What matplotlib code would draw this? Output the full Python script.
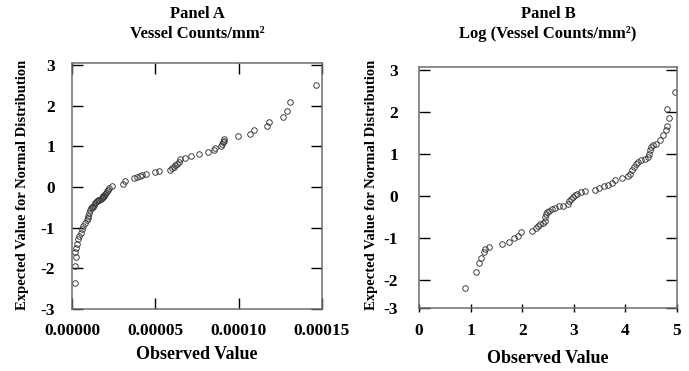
import numpy as np
import matplotlib
matplotlib.use("Agg")
import matplotlib.pyplot as plt

plt.rcParams['font.family'] = ['Liberation Serif', 'DejaVu Serif']
plt.rcParams['font.weight'] = 'bold'

# Panel A: observed vessel counts/mm2 vs expected normal value
obs_a = [1.8e-6, 1.8e-6, 2.4e-6, 1.8e-6, 2.4e-6, 3.2e-6, 3.8e-6, 4.4e-6, 5.2e-6, 5.8e-6,
         6.8e-6, 7.8e-6, 8.8e-6, 9.5e-6, 9.8e-6, 1.02e-5, 1.08e-5, 1.12e-5, 1.18e-5, 1.24e-5,
         1.3e-5, 1.38e-5, 1.45e-5, 1.52e-5, 1.58e-5, 1.64e-5, 1.72e-5, 1.78e-5, 1.83e-5, 1.88e-5,
         1.93e-5, 1.98e-5, 2.03e-5, 2.08e-5, 2.16e-5, 2.24e-5, 2.38e-5,
         3.04e-5, 3.2e-5, 3.7e-5, 3.9e-5, 4.06e-5, 4.2e-5, 4.46e-5, 5.0e-5, 5.2e-5,
         5.9e-5, 6.0e-5, 6.1e-5, 6.2e-5, 6.3e-5, 6.4e-5, 6.5e-5, 6.8e-5, 7.14e-5, 7.62e-5,
         8.14e-5, 8.5e-5, 8.6e-5, 8.94e-5, 9.0e-5, 9.06e-5, 9.1e-5, 9.14e-5, 9.94e-5,
         1.066e-4, 1.094e-4, 1.17e-4, 1.18e-4, 1.266e-4, 1.29e-4, 1.31e-4, 1.462e-4]
exp_a = [-2.36, -1.95, -1.73, -1.61, -1.49, -1.39, -1.29, -1.20, -1.12, -1.04,
         -0.96, -0.88, -0.80, -0.76, -0.72, -0.64, -0.56, -0.52, -0.50, -0.48,
         -0.44, -0.40, -0.37, -0.35, -0.33, -0.32, -0.29, -0.27, -0.25, -0.23,
         -0.21, -0.18, -0.15, -0.11, -0.07, -0.03, 0.03,
         0.08, 0.14, 0.21, 0.25, 0.27, 0.30, 0.32, 0.37, 0.39,
         0.43, 0.47, 0.49, 0.53, 0.57, 0.61, 0.68, 0.71, 0.76, 0.80,
         0.86, 0.92, 0.96, 1.02, 1.06, 1.10, 1.14, 1.18, 1.25,
         1.30, 1.41, 1.49, 1.60, 1.71, 1.87, 2.10, 2.52]

# Panel B: log of vessel counts/mm2
obs_b = [0.89, 1.10, 1.17, 1.20, 1.25, 1.28, 1.35, 1.60, 1.75, 1.85, 1.91, 1.98,
         2.19, 2.26, 2.31, 2.35, 2.40, 2.44, 2.45, 2.47, 2.49, 2.52, 2.58, 2.64,
         2.71, 2.80, 2.88, 2.91, 2.95, 2.98, 3.02, 3.06, 3.13, 3.21, 3.41, 3.48,
         3.58, 3.67, 3.74, 3.79, 3.93, 4.06, 4.09, 4.12, 4.16, 4.20, 4.25, 4.31,
         4.38, 4.43, 4.45, 4.47, 4.49, 4.54, 4.60, 4.67, 4.73, 4.78, 4.81, 4.84,
         4.81, 4.96]
exp_b = [-2.21, -1.81, -1.60, -1.48, -1.33, -1.27, -1.23, -1.15, -1.09, -1.00, -0.95, -0.87,
         -0.83, -0.76, -0.72, -0.68, -0.65, -0.60, -0.51, -0.44, -0.39, -0.35, -0.32, -0.29,
         -0.25, -0.23, -0.19, -0.12, -0.07, -0.03, 0.01, 0.05, 0.09, 0.11, 0.15, 0.19,
         0.23, 0.27, 0.31, 0.37, 0.43, 0.47, 0.53, 0.61, 0.69, 0.75, 0.81, 0.85,
         0.89, 0.93, 1.01, 1.09, 1.17, 1.21, 1.25, 1.33, 1.45, 1.57, 1.67, 1.85,
         2.07, 2.47]

xticks_a = [0.0, 0.00005, 0.00010, 0.00015]
xticklabels_a = ['0.00000', '0.00005', '0.00010', '0.00015']
xticks_b = [0, 1, 2, 3, 4, 5]
yticks = [-3, -2, -1, 0, 1, 2, 3]

ylabel = 'Expected Value for Normal Distribution'
xlabel = 'Observed Value'

fig = plt.figure(figsize=(6.89, 3.71), dpi=100)
axA = fig.add_axes([72/689, 62/371, 250/689, 246/371])
axB = fig.add_axes([419/689, 63.3/371, 258/689, 240.4/371])

for ax in (axA, axB):
    for s in ax.spines.values():
        s.set_color('#6e6e6e')
        s.set_linewidth(1.1)

mk = dict(linestyle='none', marker='o', markersize=4.0, markerfacecolor='none',
          markeredgecolor='#333333', markeredgewidth=0.65)

# ---- Panel A
axA.plot(obs_a, exp_a, **mk)
axA.set_xlim(0, 0.00015)
axA.set_ylim(-3.0, 3.05)
axA.set_xticks(xticks_a)
axA.set_xticklabels(xticklabels_a)
axA.set_yticks(yticks)
axA.set_yticklabels([str(t) for t in yticks])
axA.tick_params(axis='y', direction='in', length=8, width=1, left=True, right=True,
                labelsize=12.5, pad=12)
axA.tick_params(axis='x', direction='in', length=8, width=1, top=True, bottom=True,
                labelsize=12.5, pad=10)
axA.set_ylabel(ylabel, fontsize=10.5, fontweight='bold')
axA.yaxis.set_label_coords(-0.17, 0.505)
axA.set_xlabel(xlabel, fontsize=13, fontweight='bold')
axA.xaxis.set_label_coords(0.5, -0.15)

# ---- Panel B
axB.plot(obs_b, exp_b, **mk)
axB.set_xlim(0, 5)
ylo_b = -2.67
axB.set_ylim(ylo_b, 3.07)
axB.set_xticks(xticks_b)
axB.set_xticklabels([str(t) for t in xticks_b])
axB.set_yticks([ylo_b] + yticks[1:])
axB.set_yticklabels([str(t) for t in yticks])
axB.tick_params(axis='y', direction='in', length=8, width=1, left=True, right=True,
                labelsize=12.5, pad=15)
axB.tick_params(axis='x', direction='inout', length=6, width=1, top=False, bottom=True,
                labelsize=12.5, pad=8)
axB.set_ylabel(ylabel, fontsize=10.5, fontweight='bold')
axB.yaxis.set_label_coords(-0.16, 0.51)
axB.set_xlabel(xlabel, fontsize=13, fontweight='bold')
axB.xaxis.set_label_coords(0.5, -0.175)

# titles
fig.text(197/689, 1 - 6/371, 'Panel A\nVessel Counts/mm\u00b2', ha='center', va='top',
         fontsize=12, fontweight='bold', linespacing=1.35)
fig.text(548/689, 1 - 6/371, 'Panel B\nLog (Vessel Counts/mm\u00b2)', ha='center', va='top',
         fontsize=12, fontweight='bold', linespacing=1.35)

fig.savefig('out.png', dpi=100)
